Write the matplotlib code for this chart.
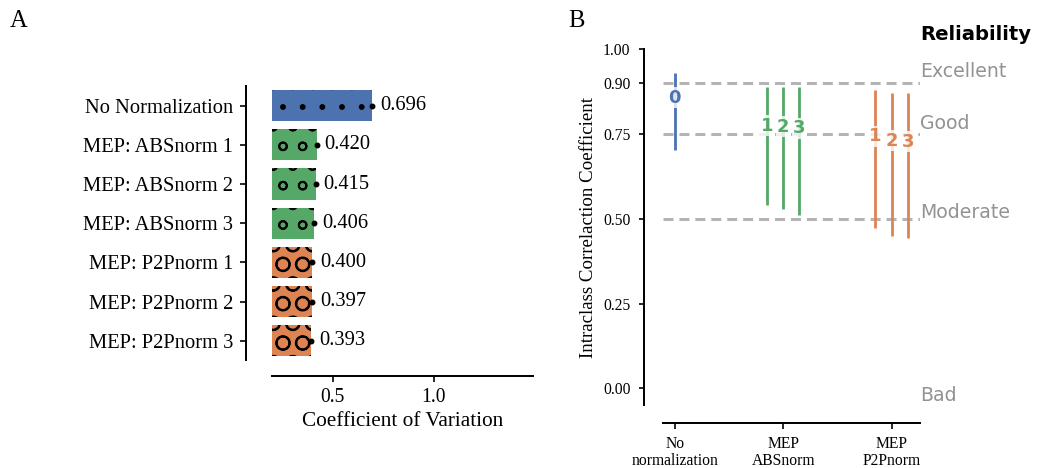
"""Coefficient of variation and ICC reliability for MEP normalisation methods."""

import numpy as np
import matplotlib
matplotlib.use("Agg")
import matplotlib.pyplot as plt
from matplotlib.transforms import blended_transform_factory

# Panel A: coefficient of variation per condition
conditions = [
    "No Normalization",
    "MEP: ABSnorm 1",
    "MEP: ABSnorm 2",
    "MEP: ABSnorm 3",
    "MEP: P2Pnorm 1",
    "MEP: P2Pnorm 2",
    "MEP: P2Pnorm 3",
]
cv_values = [0.696, 0.420, 0.415, 0.406, 0.400, 0.397, 0.393]
condition_group = [0, 1, 1, 1, 2, 2, 2]

# Panel B: intraclass correlation with 95% CI
icc_groups = ["No\nnormalization", "MEP\nABSnorm", "MEP\nP2Pnorm"]
icc_tags = ["0", "1", "2", "3", "1", "2", "3"]
icc_mean = [0.857, 0.775, 0.772, 0.767, 0.744, 0.730, 0.727]
icc_low = [0.703, 0.541, 0.530, 0.510, 0.472, 0.450, 0.442]
icc_high = [0.929, 0.890, 0.890, 0.890, 0.880, 0.870, 0.870]

reliability_cuts = [0.9, 0.75, 0.5]
reliability_names = ["Excellent", "Good", "Moderate", "Bad"]
reliability_text_y = [0.935, 0.78, 0.52, -0.02]

group_colors = ["#4C72B0", "#55A868", "#DD8452"]
group_hatches = [".", "o", "O"]

DPI = 118
OUT_W, OUT_H = 1038, 468
# Agg tiles hatches from the canvas corner, so render with a margin
# and crop it off afterwards to centre the circle rows on the bars
PAD_X, PAD_Y = 12, 11
W, H = OUT_W + PAD_X, OUT_H + PAD_Y

plt.rcParams["font.family"] = ["Liberation Serif", "DejaVu Serif"]
plt.rcParams["hatch.color"] = "black"
plt.rcParams["hatch.linewidth"] = 1.15
plt.rcParams["axes.linewidth"] = 1.2
plt.rcParams["xtick.major.width"] = 1.0
plt.rcParams["ytick.major.width"] = 1.0

fig = plt.figure(figsize=(W / DPI, H / DPI), dpi=DPI)


def axes_px(left, top, right, bottom, left_out, bottom_out):
    left, right = left + PAD_X, right + PAD_X
    top, bottom = top + PAD_Y, bottom + PAD_Y
    ax = fig.add_axes([left / W, 1 - bottom / H, (right - left) / W, (bottom - top) / H])
    # offset spines first: moving a spine rebuilds the ticks
    for side in ("top", "right"):
        ax.spines[side].set_visible(False)
    ax.spines["left"].set_position(("outward", left_out))
    ax.spines["bottom"].set_position(("outward", bottom_out))
    return ax


# ---- A: horizontal bars ----
ax1 = axes_px(272, 86, 533, 360.4, 15.6, 9.5)
ypos = list(range(len(conditions)))
for y, v, g in zip(ypos, cv_values, condition_group):
    ax1.barh(y, v, height=0.8, color=group_colors[g], hatch=group_hatches[g],
             linewidth=0)
    ax1.annotate(f"{v:.3f}", (v, y), xytext=(5, 0), textcoords="offset points",
                 ha="left", va="center", fontsize=12.5)
ax1.plot(cv_values, ypos, "o", color="black", ms=2.6, zorder=3)

ax1.set_xlim(0.2, 1.49)
ax1.set_ylim(len(conditions) - 0.5, -0.5)
ax1.set_yticks(ypos)
ax1.set_yticklabels(conditions)
ax1.set_xticks([0.5, 1.0])
ax1.set_xticklabels(["0.5", "1.0"])
ax1.tick_params(axis="y", pad=4.5, length=3.5, labelsize=12.5)
ax1.tick_params(axis="x", pad=4, length=3.5, labelsize=12)
ax1.set_xlabel("Coefficient of Variation", fontsize=13, labelpad=3)

# ---- B: ICC intervals ----
ax2 = axes_px(662.7, 49.3, 920, 405.3, 11.4, 11)
ax2.set_xlim(-0.11, 2.26)
ax2.set_ylim(-0.05, 1.0)

for cut in reliability_cuts:
    ax2.axhline(cut, color="#b4b4b4", lw=1.8, dashes=(3.4, 2.0), zorder=1)

dodge = 0.15
for g in range(len(icc_groups)):
    members = [i for i, cg in enumerate(condition_group) if cg == g]
    for k, i in enumerate(members):
        x = g + (k - (len(members) - 1) / 2) * dodge
        ax2.vlines(x, icc_low[i], icc_high[i], color=group_colors[g], lw=1.7, zorder=3)
        ax2.text(x, icc_mean[i], icc_tags[i], ha="center", va="center",
                 family="DejaVu Sans", fontweight="bold", fontsize=11,
                 color=group_colors[g], zorder=5,
                 bbox=dict(boxstyle="square,pad=0.08", fc="white", ec="none", alpha=0.8))

side = blended_transform_factory(ax2.transAxes, ax2.transData)
for name, ty in zip(reliability_names, reliability_text_y):
    ax2.text(1.0, ty, name, transform=side, ha="left", va="center",
             family="DejaVu Sans", fontsize=11.5, color="#939393", clip_on=False)
ax2.text(1.0, 1.045, "Reliability", transform=side, ha="left", va="center",
         family="DejaVu Sans", fontweight="bold", fontsize=12, color="black",
         clip_on=False)

ax2.set_yticks([0.0, 0.25, 0.5, 0.75, 0.9, 1.0])
ax2.set_yticklabels(["0.00", "0.25", "0.50", "0.75", "0.90", "1.00"])
ax2.set_xticks(range(len(icc_groups)))
ax2.set_xticklabels(icc_groups, linespacing=1.15)
ax2.tick_params(axis="y", pad=5, length=3.2, labelsize=9.5)
ax2.tick_params(axis="x", pad=4, length=3.5, labelsize=9.5)
ax2.set_ylabel("Intraclass Correlaction Coefficient", fontsize=11.5, labelpad=4)

fig.text((10 + PAD_X) / W, 1 - (26.8 + PAD_Y) / H, "A", fontsize=15, va="baseline")
fig.text((568 + PAD_X) / W, 1 - (26.8 + PAD_Y) / H, "B", fontsize=15, va="baseline")

fig.canvas.draw()
rgba = np.asarray(fig.canvas.buffer_rgba())
plt.imsave("out.png", rgba[PAD_Y:, PAD_X:])
